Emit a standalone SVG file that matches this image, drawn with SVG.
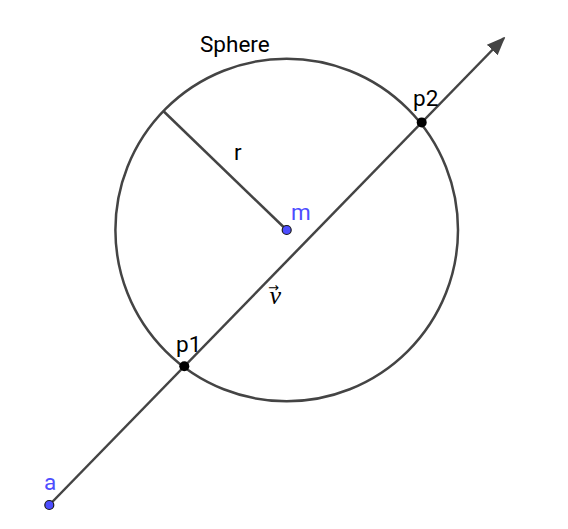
<svg xmlns="http://www.w3.org/2000/svg" width="568" height="529" viewBox="0 0 568 529">
<style>
.ln{stroke:#444;stroke-width:2.5;fill:none}
.lb{font-family:Roboto,"Liberation Sans",sans-serif;font-size:22.5px;fill:#000}
.bl{fill:#4d4dff}
.pt{stroke:#1a1a1a;stroke-width:1.2}
</style>
<defs>
<marker id="ah" viewBox="0 0 10 10" refX="9" refY="5" markerWidth="7.5" markerHeight="7.5" markerUnits="strokeWidth" orient="auto">
<path d="M0,1 L10,5 L0,9 Z" fill="#444"/>
</marker>
</defs>
<rect width="568" height="529" fill="#fff"/>
<g id="sphere">
<circle class="ln" cx="286.7" cy="230" r="171.3"/>
<text class="lb" x="200" y="52">Sphere</text>
</g>
<g id="connectors">
<line class="ln" x1="49.3" y1="505" x2="504" y2="38" marker-end="url(#ah)"/>
<line class="ln" x1="286.7" y1="230" x2="163.3" y2="111"/>
</g>
<g id="r"><text class="lb" x="234" y="160">r</text></g>
<g id="v"><text x="268" y="304" font-family="'Liberation Serif',serif" font-style="italic" font-size="26">v<tspan font-style="normal" font-family="'DejaVu Sans',sans-serif" font-size="13" dx="-13" dy="-12">→</tspan></text></g>
<g id="a"><circle class="bl pt" cx="49.3" cy="505" r="4.5"/><text class="lb bl" x="44" y="490">a</text></g>
<g id="m"><circle class="bl pt" cx="286.7" cy="230" r="4.5"/><text class="lb bl" x="291" y="220">m</text></g>
<g id="p1"><circle cx="184.3" cy="366.3" r="5" fill="#000"/><text class="lb" x="176" y="352">p1</text></g>
<g id="p2"><circle cx="421.7" cy="122.4" r="5" fill="#000"/><text class="lb" x="413" y="106">p2</text></g>
</svg>
